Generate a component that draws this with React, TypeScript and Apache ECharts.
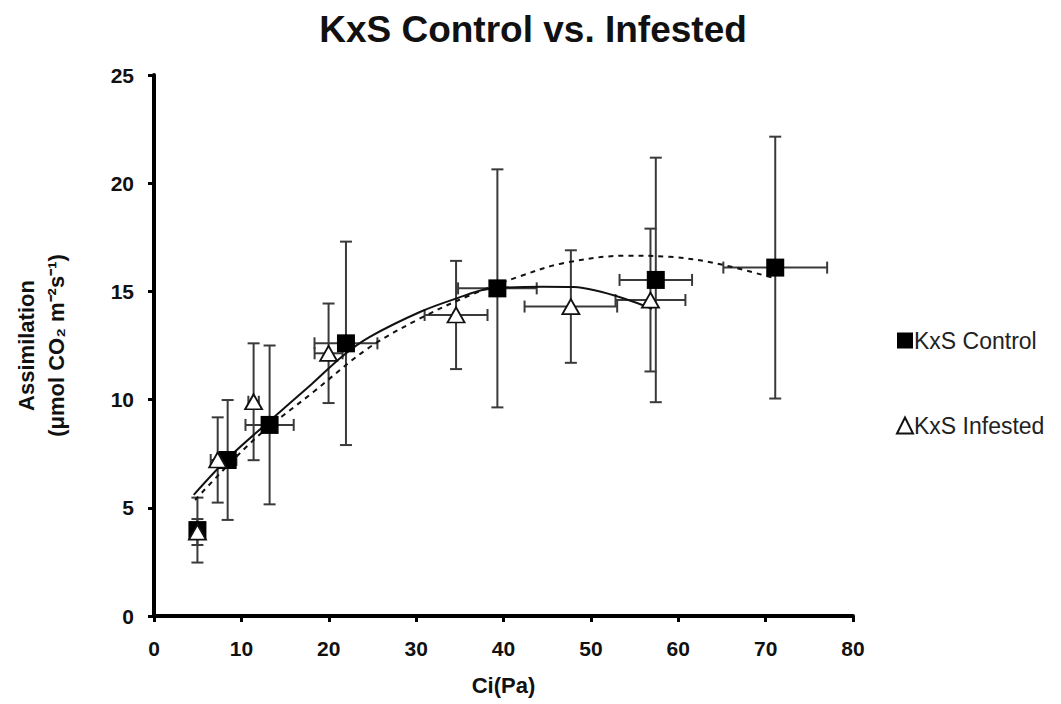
import React, { useEffect, useRef } from "react";
import * as echarts from "echarts";

const FONT = "'Liberation Sans', Arial, sans-serif";

const xTicks = [0, 10, 20, 30, 40, 50, 60, 70, 80];
const yTicks = [0, 5, 10, 15, 20, 25];

const controlX = [4.97, 8.43, 13.23, 21.97, 39.3, 57.43, 71.1];
const controlY = [3.97, 7.21, 8.83, 12.6, 15.14, 15.53, 16.1];
const controlXErr = [0.5, 1.0, 2.76, 3.6, 4.5, 4.15, 5.94];
const controlYErr = [1.5, 2.77, 3.67, 4.7, 5.5, 5.65, 6.05];

const infestedX = [4.97, 7.29, 11.4, 19.98, 34.57, 47.71, 56.82];
const infestedY = [3.88, 7.21, 9.9, 12.14, 13.91, 14.3, 14.6];
const infestedXErr = [0.3, 0.8, 0.6, 1.6, 3.6, 5.3, 4.0];
const infestedYErr = [0.6, 1.97, 2.7, 2.3, 2.5, 2.6, 3.3];

// fitted curves
const solidFitX = [4.55, 8.5, 13.2, 18, 21.7, 24.7, 30.5, 34.65, 38.1, 44.5, 48.0, 57.0];
const solidFitY = [5.6, 7.3, 9.0, 10.7, 12.05, 12.9, 14.06, 14.68, 15.1, 15.22, 15.2, 14.2];
const dashFitX = [4.7, 11.4, 18.3, 24.5, 30.5, 36.2, 41.9, 46.8, 54, 59, 64.3, 71.1];
const dashFitY = [5.36, 8.13, 10.37, 12.37, 13.76, 14.83, 15.7, 16.3, 16.65, 16.6, 16.3, 15.6];

const zip = (a: number[], b: number[]) => a.map((v, i) => [v, b[i]]);
const zip4 = (a: number[], b: number[], c: number[], d: number[]) =>
  a.map((v, i) => [v, b[i], c[i], d[i]]);

const errRender = (params: any, api: any) => {
  const x = api.value(0);
  const y = api.value(1);
  const xe = api.value(2);
  const ye = api.value(3);
  const top = api.coord([x, y + ye]);
  const bot = api.coord([x, y - ye]);
  const lft = api.coord([x - xe, y]);
  const rgt = api.coord([x + xe, y]);
  const cap = 6;
  const style = { stroke: "#3a3a3a", lineWidth: 2 };
  const ln = (x1: number, y1: number, x2: number, y2: number) => ({
    type: "line",
    shape: { x1, y1, x2, y2 },
    style,
  });
  return {
    type: "group",
    children: [
      ln(top[0], top[1], bot[0], bot[1]),
      ln(top[0] - cap, top[1], top[0] + cap, top[1]),
      ln(bot[0] - cap, bot[1], bot[0] + cap, bot[1]),
      ln(lft[0], lft[1], rgt[0], rgt[1]),
      ln(lft[0], lft[1] - cap, lft[0], lft[1] + cap),
      ln(rgt[0], rgt[1] - cap, rgt[0], rgt[1] + cap),
    ],
  };
};

export default function App() {
  const ref = useRef<HTMLDivElement>(null);
  useEffect(() => {
    const chart = echarts.init(ref.current!, null, { renderer: "svg" });
    chart.setOption({
      animation: false,
      backgroundColor: "#ffffff",
      title: {
        text: "KxS Control vs. Infested",
        left: 528,
        textAlign: "center",
        top: 6,
        textStyle: { fontFamily: FONT, fontSize: 37, fontWeight: "bold", color: "#111" },
      },
      legend: {
        orient: "vertical",
        left: 891,
        top: 324,
        itemGap: 62,
        itemWidth: 16,
        itemHeight: 16,
        textStyle: { fontFamily: FONT, fontSize: 23, color: "#222", padding: [0, 0, 0, -4] },
        data: [
          { name: "KxS Control", icon: "rect" },
          { name: "KxS Infested", icon: "triangle" },
        ],
      },
      grid: { left: 154, right: 208, top: 75, bottom: 88 },
      xAxis: {
        type: "value",
        min: 0,
        max: 80,
        interval: 10,
        name: "Ci(Pa)",
        nameLocation: "middle",
        nameGap: 58,
        nameTextStyle: { fontFamily: FONT, fontSize: 22, fontWeight: "bold", color: "#111" },
        splitLine: { show: false },
        axisLine: { lineStyle: { color: "#000", width: 4 } },
        axisTick: { length: 6, lineStyle: { color: "#000", width: 3 } },
        axisLabel: {
          margin: 22,
          fontFamily: FONT,
          fontSize: 21,
          fontWeight: "bold",
          color: "#111",
          formatter: (v: number) => (xTicks.includes(v) ? String(v) : ""),
        },
      },
      yAxis: {
        type: "value",
        min: 0,
        max: 25,
        interval: 5,
        name: "Assimilation\n(μmol CO₂ m⁻²s⁻¹)",
        nameLocation: "middle",
        nameRotate: 90,
        nameGap: 83,
        nameTextStyle: {
          fontFamily: FONT,
          fontSize: 22,
          fontWeight: "bold",
          color: "#111",
          lineHeight: 30,
          align: "center",
        },
        splitLine: { show: false },
        axisLine: { show: true, lineStyle: { color: "#000", width: 4 } },
        axisTick: { show: true, length: 6, lineStyle: { color: "#000", width: 3 } },
        axisLabel: {
          margin: 20,
          fontFamily: FONT,
          fontSize: 21,
          fontWeight: "bold",
          color: "#111",
          formatter: (v: number) => (yTicks.includes(v) ? String(v) : ""),
        },
      },
      series: [
        {
          type: "custom",
          name: "errC",
          renderItem: errRender,
          data: zip4(controlX, controlY, controlXErr, controlYErr),
          encode: { x: 0, y: 1 },
          z: 1,
          silent: true,
        },
        {
          type: "custom",
          name: "errI",
          renderItem: errRender,
          data: zip4(infestedX, infestedY, infestedXErr, infestedYErr),
          encode: { x: 0, y: 1 },
          z: 1,
          silent: true,
        },
        {
          type: "line",
          name: "fitSolid",
          data: zip(solidFitX, solidFitY),
          smooth: 0.35,
          showSymbol: false,
          lineStyle: { color: "#111", width: 2 },
          z: 2,
        },
        {
          type: "line",
          name: "fitDash",
          data: zip(dashFitX, dashFitY),
          smooth: 0.35,
          showSymbol: false,
          lineStyle: { color: "#111", width: 2, type: [5, 5] },
          z: 2,
        },
        {
          type: "scatter",
          name: "KxS Control",
          data: zip(controlX, controlY),
          symbol: "rect",
          symbolSize: 18,
          itemStyle: { color: "#000", opacity: 1 },
          z: 3,
        },
        {
          type: "scatter",
          name: "KxS Infested",
          data: zip(infestedX, infestedY),
          symbol: "triangle",
          symbolSize: [17, 15],
          itemStyle: { color: "#fff", borderColor: "#111", borderWidth: 1.8, opacity: 1 },
          z: 4,
        },
      ],
    });
    return () => chart.dispose();
  }, []);
  return (
    <div
      ref={ref}
      style={{ position: "fixed", left: 0, top: 0, width: 1061, height: 704 }}
    />
  );
}
